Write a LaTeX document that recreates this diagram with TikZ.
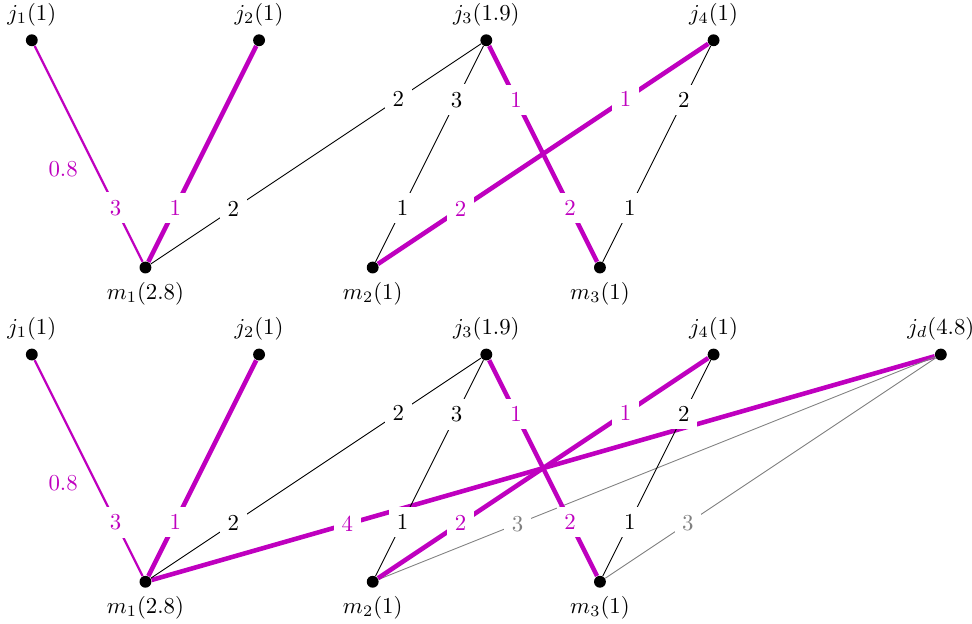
\documentclass[tikz,border=0pt]{standalone}
\usepackage{amsmath, amssymb}
\usepackage{tikz}
\usetikzlibrary{positioning}
\definecolor{flow}{RGB}{191,0,191}

\begin{document}
\begin{tikzpicture}[
  vtx/.style={circle, fill=black, inner sep=0pt, minimum size=5.2pt},
  lbl/.style={fill=white},
  used/.style={flow, line width=2pt},
  part/.style={flow, line width=1pt},
  dummy/.style={gray}]
  \useasboundingbox (-0.49,-8.99) rectangle (14.48,0.62);

  % Upper instance: jobs and machines
  \node[vtx, label=above:{$j_1(1)$}] (j1) at (0,0) {};
  \node[vtx, label=above:{$j_2(1)$}] (j2) at (3.5,0) {};
  \node[vtx, label=above:{$j_3(1.9)$}] (j3) at (7,0) {};
  \node[vtx, label=above:{$j_4(1)$}] (j4) at (10.5,0) {};
  \node[vtx, label=below:{$m_1(2.8)$}] (m1) at (1.75,-3.5) {};
  \node[vtx, label=below:{$m_2(1)$}] (m2) at (5.25,-3.5) {};
  \node[vtx, label=below:{$m_3(1)$}] (m3) at (8.75,-3.5) {};

  % Upper instance: assignments
  \draw[part] (j1) -- node[lbl, pos=0.75]{3} node[pos=0.57, left=1.5mm]{0.8} (m1);
  \draw[used] (j2) -- node[lbl, pos=0.75]{1} (m1);
  \draw (j3) -- node[lbl, pos=0.25]{2} node[lbl, pos=0.75]{2} (m1);
  \draw (j3) -- node[lbl, pos=0.25]{3} node[lbl, pos=0.75]{1} (m2);
  \draw[used] (j3) -- node[lbl, pos=0.25]{1} node[lbl, pos=0.75]{2} (m3);
  \draw[used] (j4) -- node[lbl, pos=0.25]{1} node[lbl, pos=0.75]{2} (m2);
  \draw (j4) -- node[lbl, pos=0.25]{2} node[lbl, pos=0.75]{1} (m3);

  % Lower instance with dummy job
  \node[vtx, label=above:{$j_1(1)$}] (jb1) at (0,-4.84) {};
  \node[vtx, label=above:{$j_2(1)$}] (jb2) at (3.5,-4.84) {};
  \node[vtx, label=above:{$j_3(1.9)$}] (jb3) at (7,-4.84) {};
  \node[vtx, label=above:{$j_4(1)$}] (jb4) at (10.5,-4.84) {};
  \node[vtx, label=above:{$j_d(4.8)$}] (jbd) at (14,-4.84) {};
  \node[vtx, label=below:{$m_1(2.8)$}] (mb1) at (1.75,-8.34) {};
  \node[vtx, label=below:{$m_2(1)$}] (mb2) at (5.25,-8.34) {};
  \node[vtx, label=below:{$m_3(1)$}] (mb3) at (8.75,-8.34) {};

  % Lower instance: dummy job edges first
  \draw[used] (jbd) -- node[lbl, pos=0.75]{4} (mb1);
  \draw[dummy] (jbd) -- node[lbl, pos=0.75]{3} (mb2);
  \draw[dummy] (jbd) -- node[lbl, pos=0.75]{3} (mb3);

  \draw[part] (jb1) -- node[lbl, pos=0.75]{3} node[pos=0.57, left=1.5mm]{0.8} (mb1);
  \draw[used] (jb2) -- node[lbl, pos=0.75]{1} (mb1);
  \draw (jb3) -- node[lbl, pos=0.25]{2} node[lbl, pos=0.75]{2} (mb1);
  \draw (jb3) -- node[lbl, pos=0.25]{3} node[lbl, pos=0.75]{1} (mb2);
  \draw[used] (jb3) -- node[lbl, pos=0.25]{1} node[lbl, pos=0.75]{2} (mb3);
  \draw[used] (jb4) -- node[lbl, pos=0.25]{1} node[lbl, pos=0.75]{2} (mb2);
  \draw (jb4) -- node[lbl, pos=0.25]{2} node[lbl, pos=0.75]{1} (mb3);
\end{tikzpicture}
\end{document}
